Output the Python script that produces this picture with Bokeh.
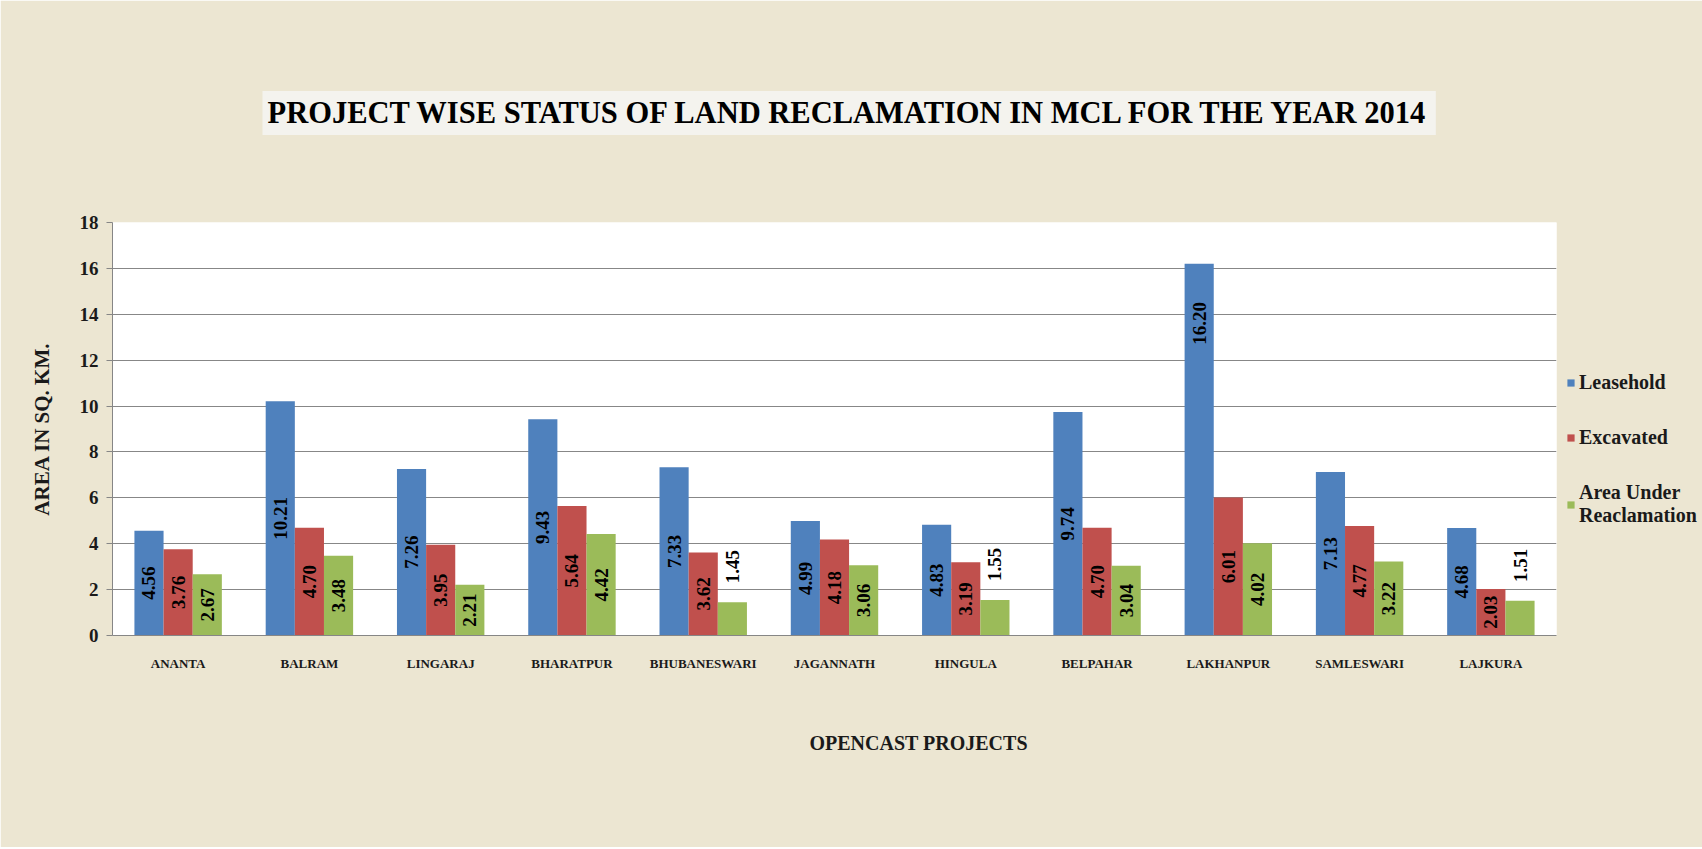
import math
from bokeh.plotting import figure
from bokeh.models import ColumnDataSource, FactorRange, Range1d, FixedTicker, Legend, LegendItem, Title
from bokeh.transform import dodge
from bokeh.core.properties import value
from bokeh.embed import file_html
from bokeh.resources import INLINE

projects = ["ANANTA", "BALRAM", "LINGARAJ", "BHARATPUR", "BHUBANESWARI", "JAGANNATH",
            "HINGULA", "BELPAHAR", "LAKHANPUR", "SAMLESWARI", "LAJKURA"]
leasehold = [4.56, 10.21, 7.26, 9.43, 7.33, 4.99, 4.83, 9.74, 16.20, 7.13, 4.68]
excavated = [3.76, 4.70, 3.95, 5.64, 3.62, 4.18, 3.19, 4.70, 6.01, 4.77, 2.03]
reclamation = [2.67, 3.48, 2.21, 4.42, 1.45, 3.06, 1.55, 3.04, 4.02, 3.22, 1.51]
series_names = ["Leasehold", "Excavated", "Area Under\nReaclamation"]
y_ticks = [0, 2, 4, 6, 8, 10, 12, 14, 16, 18]

colors = ["#4F81BD", "#C0504D", "#9BBB59"]
FONT = "Liberation Serif"
BG = "#ECE6D2"
BW = 0.222

def label_pos(v):
    # Excel-like placement: centred, tall bars near the top, tiny bars above
    if v < 2.0:
        return v + 1.55
    if v > 12:
        return v - 2.6
    return v / 2.0

src = ColumnDataSource(dict(
    x=projects,
    lease=leasehold, exc=excavated, rec=reclamation,
    lease_t=["%.2f" % v for v in leasehold],
    exc_t=["%.2f" % v for v in excavated],
    rec_t=["%.2f" % v for v in reclamation],
    lease_y=[label_pos(v) for v in leasehold],
    exc_y=[label_pos(v) for v in excavated],
    rec_y=[label_pos(v) for v in reclamation],
))

p = figure(x_range=FactorRange(*projects, range_padding=0), y_range=Range1d(0, 18),
           width=1700, height=847, output_backend="svg", toolbar_location=None,
           min_border_left=112, min_border_right=144, min_border_top=222, min_border_bottom=212,
           frame_width=1444, frame_height=413)
p.background_fill_color = "white"
p.border_fill_color = BG
p.outline_line_color = None

renderers = []
for key, off, col in [("lease", -BW, colors[0]), ("exc", 0, colors[1]), ("rec", BW, colors[2])]:
    r = p.vbar(x=dodge("x", off, range=p.x_range), top=key, width=BW, source=src,
               fill_color=col, line_color=None)
    renderers.append(r)
    p.text(x=dodge("x", off, range=p.x_range), y=key + "_y", text=key + "_t", source=src,
           angle=math.pi / 2, text_align="center", text_baseline="middle",
           text_font=value(FONT), text_font_style="bold", text_font_size="19px",
           text_color="black")

# axes
p.yaxis.ticker = FixedTicker(ticks=y_ticks)
p.yaxis.minor_tick_line_color = None
p.yaxis.major_tick_out = 6
p.yaxis.major_tick_in = 0
p.yaxis.major_tick_line_color = "#868686"
p.yaxis.axis_line_color = "#868686"
p.yaxis.major_label_text_font = FONT
p.yaxis.major_label_text_font_style = "bold"
p.yaxis.major_label_text_font_size = "19px"
p.yaxis.major_label_text_color = "#1a1a1a"
p.yaxis.major_label_standoff = 8
p.yaxis.axis_label = "AREA IN SQ. KM."
p.yaxis.axis_label_text_font = FONT
p.yaxis.axis_label_text_font_style = "bold"
p.yaxis.axis_label_text_font_size = "21px"
p.yaxis.axis_label_text_color = "#1a1a1a"
p.yaxis.axis_label_standoff = 23

p.xaxis.axis_line_color = "#868686"
p.xaxis.major_tick_line_color = None
p.xaxis.minor_tick_line_color = None
p.xaxis.major_label_text_font = FONT
p.xaxis.major_label_text_font_style = "bold"
p.xaxis.major_label_text_font_size = "13px"
p.xaxis.major_label_text_color = "#1a1a1a"
p.xaxis.major_label_standoff = 14

p.xgrid.grid_line_color = None
p.ygrid.grid_line_color = "#878787"
p.ygrid.grid_line_width = 1.2

# x axis title (placed right of centre like the reference)
xt = Title(text="OPENCAST PROJECTS", align="left", offset=697, standoff=113,
           text_font=FONT, text_font_style="bold", text_font_size="20px",
           text_color="#1a1a1a")
p.add_layout(xt, "below")

# legend
legend = Legend(items=[LegendItem(label=n, renderers=[r]) for n, r in zip(series_names, renderers)],
                location=(10, 108), orientation="vertical",
                label_text_font=FONT, label_text_font_style="bold", label_text_font_size="20px",
                label_text_color="#1a1a1a", glyph_width=9, glyph_height=9, spacing=32,
                label_standoff=4, padding=4, margin=0,
                background_fill_alpha=0, border_line_color=None)
p.add_layout(legend, "right")

# chart title with light box
tt = Title(text="PROJECT WISE STATUS OF LAND RECLAMATION IN MCL FOR THE YEAR 2014",
           align="left", offset=150, standoff=175,
           text_font=FONT, text_font_style="bold", text_font_size="30.5px",
           text_color="black", background_fill_color="#F4F3EE")
try:
    tt.padding = 5
except Exception:
    pass
p.add_layout(tt, "above")

open("out.html", "w").write(file_html(p, INLINE))
